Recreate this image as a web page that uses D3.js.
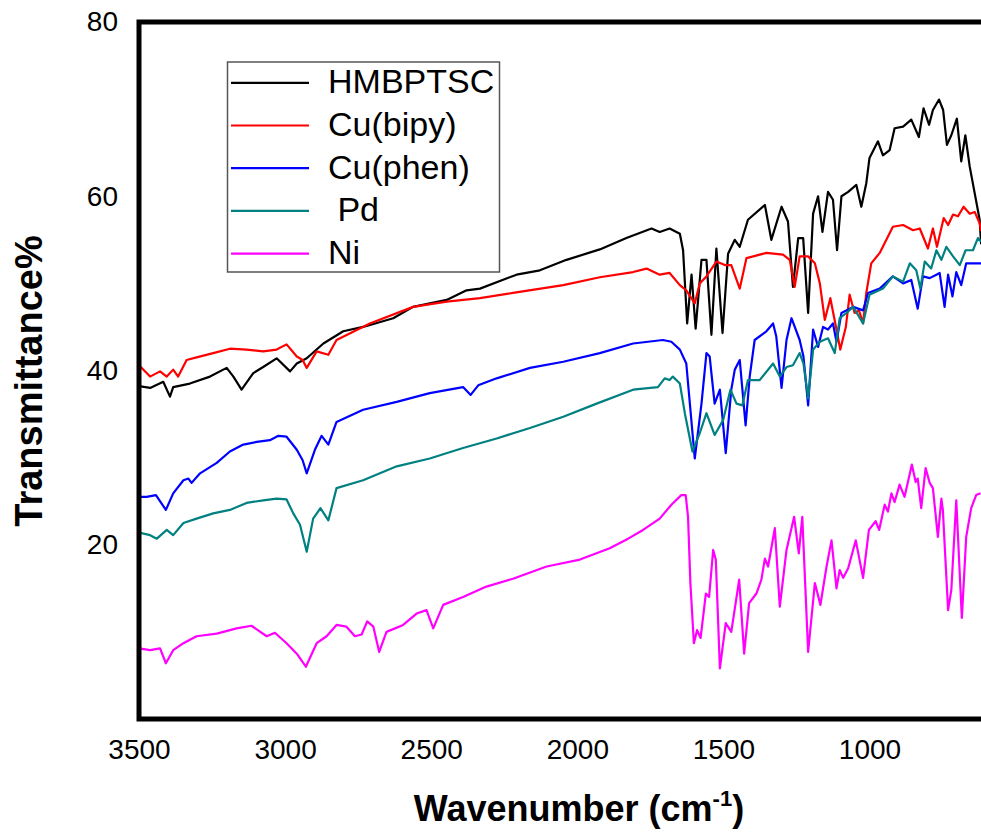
<!DOCTYPE html>
<html>
<head>
<meta charset="utf-8">
<script src="https://cdn.jsdelivr.net/npm/d3@7"></script>
<style>
  body { margin: 0; background: #fff; }
  svg { display: block; font-family: "Liberation Sans", Arial, sans-serif; }
</style>
</head>
<body>
<div id="chart"></div>
<script>
// tick labels
const xTicks = [3500, 3000, 2500, 2000, 1500, 1000];
const yTicks = [20, 40, 60, 80];

// legend names and colours
const seriesNames = ["HMBPTSC", "Cu(bipy)", "Cu(phen)", " Pd", "Ni"];
const seriesColors = ["#000000", "#ff0000", "#0000ff", "#008080", "#ff00ff"];

// [wavenumber, transmittance]
const hmbptsc = [[3500,38.2],[3462,38.0],[3417,38.7],[3394,37.0],[3383,38.1],[3326,38.5],[3257,39.3],[3200,40.3],[3177,39.3],[3149,37.8],[3109,39.7],[3075,40.4],[3029,41.4],[2983,39.9],[2960,40.8],[2926,41.4],[2869,43.1],[2801,44.5],[2733,45.0],[2630,46.0],[2562,47.3],[2447,48.1],[2379,49.2],[2333,49.4],[2208,51.0],[2128,51.5],[2037,52.7],[1923,53.9],[1832,55.2],[1746,56.3],[1718,55.9],[1684,56.3],[1649,55.7],[1638,53.8],[1624,45.4],[1609,51.0],[1595,44.8],[1575,52.7],[1558,52.7],[1541,44.1],[1524,54.0],[1503,44.3],[1484,53.4],[1461,55.0],[1444,54.2],[1416,57.3],[1358,59.0],[1336,55.0],[1301,58.8],[1279,57.1],[1262,49.6],[1244,55.2],[1227,55.2],[1210,46.6],[1193,58.0],[1176,60.0],[1161,55.9],[1142,60.5],[1125,59.6],[1111,53.8],[1096,60.0],[1073,60.5],[1045,61.3],[1028,58.8],[1011,61.5],[1000,64.4],[971,66.3],[954,64.7],[931,65.3],[914,67.8],[885,68.0],[857,68.8],[831,66.8],[815,70.1],[796,68.2],[783,69.9],[762,71.1],[748,69.9],[735,65.9],[720,67.0],[701,68.9],[686,64.0],[672,67.0],[657,63.4],[623,57.3],[618,54.5]];

const cuBipy = [[3500,40.6],[3462,39.3],[3428,39.9],[3405,39.3],[3383,40.1],[3366,39.3],[3337,41.2],[3303,41.5],[3246,42.0],[3189,42.5],[3132,42.4],[3075,42.2],[3029,42.4],[2995,43.0],[2960,41.6],[2940,41.2],[2926,40.3],[2892,42.2],[2852,41.8],[2824,43.5],[2710,45.4],[2562,47.3],[2447,47.9],[2333,48.3],[2220,48.9],[2048,49.8],[1923,50.7],[1809,51.3],[1763,51.7],[1718,51.0],[1684,51.2],[1649,49.8],[1627,49.2],[1598,47.7],[1581,50.0],[1558,50.8],[1524,52.5],[1495,52.1],[1473,52.1],[1444,49.4],[1421,52.9],[1353,53.5],[1296,53.3],[1273,52.7],[1256,49.6],[1239,53.1],[1210,53.1],[1187,52.3],[1170,50.0],[1153,45.8],[1134,48.3],[1113,44.7],[1100,42.4],[1081,45.0],[1068,48.7],[1051,46.6],[1036,46.9],[1022,45.4],[1011,48.9],[994,52.3],[965,53.5],[920,56.5],[885,56.7],[851,56.1],[828,56.3],[800,54.0],[783,56.3],[769,54.2],[746,57.5],[731,56.7],[714,57.9],[697,57.7],[678,58.8],[657,58.0],[640,58.2],[623,56.9],[618,56.0]];

const cuPhen = [[3500,25.5],[3474,25.5],[3442,25.7],[3408,24.0],[3383,25.9],[3348,27.4],[3331,27.6],[3320,27.1],[3291,28.2],[3234,29.4],[3189,30.7],[3143,31.5],[3097,31.8],[3052,32.0],[3023,32.5],[2995,32.4],[2960,30.9],[2940,29.7],[2926,28.2],[2898,30.9],[2875,32.5],[2852,31.5],[2824,34.1],[2733,35.5],[2618,36.4],[2505,37.4],[2391,38.1],[2365,37.2],[2339,38.3],[2276,39.1],[2162,40.3],[2048,41.0],[1923,42.0],[1809,43.1],[1707,43.5],[1678,43.3],[1649,42.4],[1627,40.8],[1598,29.9],[1575,36.2],[1558,42.0],[1547,41.6],[1530,36.2],[1512,37.8],[1492,30.5],[1473,37.8],[1461,40.1],[1444,41.2],[1424,33.7],[1410,39.3],[1393,43.5],[1353,44.5],[1330,45.4],[1319,43.9],[1301,38.0],[1284,43.5],[1267,46.0],[1239,43.5],[1226,41.6],[1210,36.0],[1193,44.7],[1176,42.7],[1159,45.0],[1142,44.7],[1125,45.4],[1113,43.3],[1096,46.6],[1056,47.3],[1022,46.9],[1005,48.9],[965,49.4],[920,50.8],[885,50.0],[857,50.4],[835,47.1],[817,50.8],[794,50.6],[771,51.0],[760,51.2],[743,47.3],[731,51.0],[716,48.5],[703,51.3],[686,49.8],[669,52.3],[623,52.3],[618,52.3]];

const pd = [[3500,21.4],[3462,21.1],[3439,20.7],[3405,21.7],[3383,21.1],[3348,22.5],[3303,23.0],[3246,23.6],[3189,24.0],[3132,24.8],[3075,25.1],[3029,25.3],[2995,25.2],[2972,23.6],[2949,22.3],[2926,19.2],[2904,23.0],[2879,24.2],[2852,22.8],[2824,26.5],[2733,27.4],[2618,29.0],[2505,29.9],[2391,31.1],[2276,32.2],[2162,33.4],[2048,34.7],[1934,36.2],[1809,37.8],[1724,38.1],[1701,39.1],[1684,38.9],[1673,39.3],[1649,38.5],[1632,35.1],[1606,30.7],[1581,32.8],[1558,35.1],[1530,32.6],[1501,34.3],[1476,37.8],[1455,36.2],[1435,36.0],[1416,38.9],[1376,38.9],[1330,40.8],[1307,39.3],[1284,40.4],[1262,40.6],[1239,42.0],[1226,40.8],[1210,36.8],[1193,42.4],[1170,43.3],[1142,43.7],[1119,42.0],[1102,46.0],[1079,46.6],[1056,47.3],[1022,45.4],[1000,48.7],[954,49.4],[920,50.8],[885,50.2],[862,52.3],[840,51.5],[826,49.4],[811,52.5],[789,51.7],[771,53.8],[754,52.7],[737,54.2],[714,53.1],[691,52.1],[671,53.8],[646,53.8],[629,55.2],[618,54.8]];

const ni = [[3500,8.1],[3462,7.9],[3428,8.1],[3408,6.4],[3383,7.9],[3348,8.7],[3303,9.5],[3234,9.8],[3166,10.4],[3115,10.7],[3063,9.5],[3035,9.9],[2995,8.7],[2960,7.5],[2929,6.0],[2892,8.7],[2858,9.5],[2824,10.8],[2790,10.6],[2761,9.5],[2738,9.7],[2719,11.2],[2698,10.6],[2678,7.7],[2653,10.0],[2596,10.8],[2550,12.1],[2516,12.5],[2493,10.4],[2459,13.1],[2391,14.0],[2311,15.2],[2220,16.1],[2105,17.5],[1991,18.3],[1889,19.6],[1826,20.7],[1775,21.7],[1718,23.0],[1678,24.6],[1644,25.7],[1629,25.7],[1621,23.2],[1613,15.6],[1601,8.7],[1590,10.2],[1578,9.3],[1560,14.4],[1549,14.0],[1535,19.4],[1526,18.3],[1512,5.8],[1492,11.0],[1473,10.0],[1446,16.0],[1429,7.5],[1412,13.3],[1387,14.4],[1370,16.0],[1358,18.4],[1347,17.5],[1324,21.9],[1307,12.9],[1284,19.4],[1258,23.2],[1242,19.0],[1230,23.2],[1210,7.7],[1187,15.6],[1168,13.1],[1147,17.5],[1130,20.5],[1113,15.0],[1102,17.1],[1090,16.2],[1073,17.3],[1047,20.5],[1022,16.2],[1002,21.7],[979,22.7],[967,21.7],[948,24.6],[937,23.8],[925,25.9],[914,24.9],[897,26.9],[880,25.5],[855,29.2],[842,27.2],[835,27.6],[823,24.2],[808,28.8],[794,27.1],[783,26.5],[766,20.9],[754,25.3],[749,24.0],[731,12.5],[720,14.8],[703,25.1],[684,11.6],[669,20.9],[652,24.2],[635,25.7],[620,25.9]];

const allSeries = [hmbptsc, cuBipy, cuPhen, pd, ni];

const W = 981, H = 834;
const plotLeft = 139, plotTop = 22, plotBottom = 719;

const svg = d3.select("#chart")
    .append("svg")
    .attr("width", W)
    .attr("height", H);

// x runs from 3500 down, the plot is cut at the right edge of the image
const xScale = d3.scaleLinear().domain([3500, 1000]).range([plotLeft, 869.5]);
const yScale = d3.scaleLinear().domain([0, 80]).range([plotBottom, plotTop]);

svg.append("clipPath").attr("id", "plot-clip")
    .append("rect")
    .attr("x", plotLeft).attr("y", plotTop)
    .attr("width", W - plotLeft).attr("height", plotBottom - plotTop);

const line = d3.line()
    .x((d) => xScale(d[0]))
    .y((d) => yScale(d[1]));

const plot = svg.append("g").attr("clip-path", "url(#plot-clip)");
allSeries.forEach((s, i) => {
    plot.append("path")
        .datum(s)
        .attr("d", line)
        .attr("fill", "none")
        .attr("stroke", seriesColors[i])
        .attr("stroke-width", 2.2)
        .attr("stroke-linejoin", "round");
});

// axes, labels only
const xAxis = svg.append("g")
    .attr("transform", `translate(0,${plotBottom})`)
    .call(d3.axisBottom(xScale).tickValues(xTicks).tickSize(0).tickPadding(20).tickFormat(d3.format("d")));
const yAxis = svg.append("g")
    .attr("transform", `translate(${plotLeft},0)`)
    .call(d3.axisLeft(yScale).tickValues(yTicks).tickSize(0).tickPadding(21));
[xAxis, yAxis].forEach((a) => {
    a.select(".domain").remove();
    a.selectAll("text")
        .attr("font-size", 28)
        .attr("font-family", '"Liberation Sans", Arial, sans-serif')
        .attr("fill", "#000");
});

// frame: left, top and bottom lines
svg.append("path")
    .attr("d", `M${W},${plotTop}H${plotLeft}V${plotBottom}H${W}`)
    .attr("fill", "none")
    .attr("stroke", "#000")
    .attr("stroke-width", 5);

// axis titles
const xTitle = svg.append("text")
    .attr("x", 579)
    .attr("y", 821)
    .attr("text-anchor", "middle")
    .attr("font-size", 36)
    .attr("font-weight", "bold");
xTitle.append("tspan").text("Wavenumber (cm");
xTitle.append("tspan").attr("font-size", 22).attr("dy", -15).text("-1");
xTitle.append("tspan").attr("dy", 15).text(")");

svg.append("text")
    .attr("transform", "translate(42,381) rotate(-90)")
    .attr("text-anchor", "middle")
    .attr("font-size", 38)
    .attr("font-weight", "bold")
    .text("Transmittance%");

// legend
const legend = svg.append("g");
legend.append("rect")
    .attr("x", 227.5).attr("y", 62)
    .attr("width", 272).attr("height", 210)
    .attr("fill", "#fff")
    .attr("stroke", "#555")
    .attr("stroke-width", 1.5);
seriesNames.forEach((name, i) => {
    const base = 93.3 + i * 42.7;
    legend.append("line")
        .attr("x1", 231).attr("x2", 309)
        .attr("y1", base - 10.5).attr("y2", base - 10.5)
        .attr("stroke", seriesColors[i])
        .attr("stroke-width", 2.2);
    legend.append("text")
        .attr("x", 328)
        .attr("y", base)
        .attr("font-size", 34)
        .attr("xml:space", "preserve")
        .style("white-space", "pre")
        .text(name);
});
</script>
</body>
</html>
